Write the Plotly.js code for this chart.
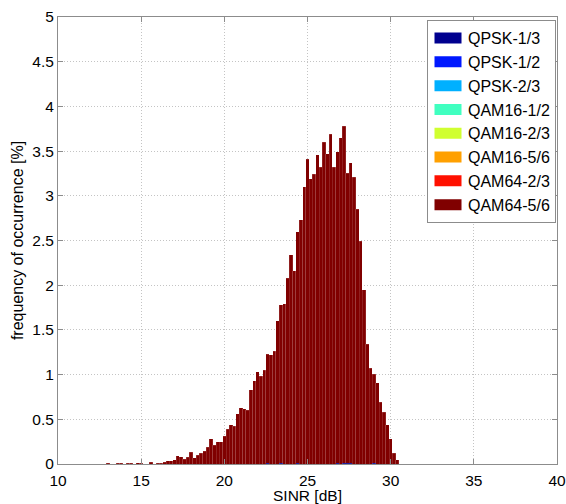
<!DOCTYPE html>
<html>
<head>
<meta charset="utf-8">
<script src="https://cdn.plot.ly/plotly-3.0.1.min.js"></script>
<style>
html,body{margin:0;padding:0;background:#fff;}
#chart{width:566px;height:504px;}
</style>
</head>
<body>
<div id="chart"></div>
<script>
// SINR bin centres [dB]
const sinr = [13.0, 13.6, 13.8, 14.2, 14.4, 14.8, 15.0, 15.6, 16.0, 16.2,
  16.4, 16.6, 16.8, 17.0, 17.2, 17.4, 17.6, 17.8, 18.0, 18.2,
  18.4, 18.6, 18.8, 19.0, 19.2, 19.4, 19.6, 19.8, 20.0, 20.2,
  20.4, 20.6, 20.8, 21.0, 21.2, 21.4, 21.6, 21.8, 22.0, 22.2,
  22.4, 22.6, 22.8, 23.0, 23.2, 23.4, 23.6, 23.8, 24.0, 24.2,
  24.4, 24.6, 24.8, 25.0, 25.2, 25.4, 25.6, 25.8, 26.0, 26.2,
  26.4, 26.6, 26.8, 27.0, 27.2, 27.4, 27.6, 27.8, 28.0, 28.2,
  28.4, 28.6, 28.8, 29.0, 29.2, 29.4, 29.6, 29.8, 30.0, 30.2, 30.4];

// frequency of occurrence [%] per modulation-and-coding scheme
const qam64_56 = [0.01, 0.01, 0.01, 0.01, 0.01, 0.015, 0.01, 0.02, 0.01, 0.01,
  0.02, 0.035, 0.035, 0.045, 0.09, 0.08, 0.055, 0.075, 0.13, 0.07,
  0.10, 0.12, 0.14, 0.19, 0.28, 0.21, 0.25, 0.25, 0.31, 0.39,
  0.44, 0.42, 0.56, 0.63, 0.62, 0.60, 0.83, 0.93, 1.03, 0.98,
  1.05, 1.22, 1.22, 1.26, 1.60, 1.77, 1.79, 2.08, 2.34, 2.16,
  2.59, 2.73, 3.10, 3.41, 3.19, 3.24, 3.46, 3.32, 3.60, 3.47,
  3.69, 3.32, 3.48, 3.65, 3.77, 3.24, 3.36, 3.21, 2.85, 2.49,
  1.95, 1.34, 1.07, 0.995, 0.91, 0.69, 0.58, 0.44, 0.28, 0.12, 0.05];

// low-rate schemes: only tiny occurrences near the bottom
const qpsk13_x = [22.6, 23.4, 24.4, 26.8, 27.2, 27.4, 27.6, 29.0];
const qpsk13 = [0.01, 0.01, 0.01, 0.01, 0.01, 0.01, 0.01, 0.01];
const zero_x = [25.0];
const zero_y = [0];

const schemes = ['QPSK-1/3', 'QPSK-1/2', 'QPSK-2/3', 'QAM16-1/2', 'QAM16-2/3', 'QAM16-5/6', 'QAM64-2/3', 'QAM64-5/6'];
const colors = ['#00008f', '#0018ff', '#00b0ff', '#40ffc0', '#d0ff30', '#ffa000', '#ff1000', '#800000'];

const seriesX = [qpsk13_x, zero_x, zero_x, zero_x, zero_x, zero_x, zero_x, sinr];
const seriesY = [qpsk13, zero_y, zero_y, zero_y, zero_y, zero_y, zero_y, qam64_56];

const traces = schemes.map((name, i) => ({
  type: 'bar',
  name: name,
  x: seriesX[i],
  y: seriesY[i],
  width: 0.2,
  marker: {color: colors[i], line: {color: 'rgba(255,255,255,0.25)', width: (i === 7 ? 0.5 : 0)}},
  hoverinfo: 'x+y+name'
}));

const font = {family: '"Liberation Sans", Arial, Helvetica, sans-serif', color: '#000'};

const axisCommon = {
  showline: true,
  linecolor: '#8c8c8c',
  linewidth: 1,
  mirror: 'ticks',
  ticks: 'inside',
  ticklen: 5,
  tickcolor: '#8c8c8c',
  showgrid: true,
  gridcolor: '#c4c4c4',
  griddash: '1px,2px',
  gridwidth: 1,
  zeroline: false,
  tickfont: Object.assign({size: 15.5}, font)
};

const layout = {
  width: 566,
  height: 504,
  margin: {l: 58, r: 9, t: 17, b: 40},
  paper_bgcolor: '#fff',
  plot_bgcolor: '#fff',
  barmode: 'stack',
  bargap: 0,
  font: font,
  xaxis: Object.assign({}, axisCommon, {
    range: [10, 40],
    tickvals: [10, 15, 20, 25, 30, 35, 40],
    ticktext: ['10', '15', '20', '25', '30', '35', '40'],
    ticklabelstandoff: 2,
    title: {text: 'SINR [dB]', font: Object.assign({size: 15.5}, font), standoff: 3}
  }),
  yaxis: Object.assign({}, axisCommon, {
    range: [0, 5],
    tickvals: [0, 0.5, 1, 1.5, 2, 2.5, 3, 3.5, 4, 4.5, 5],
    ticktext: ['0', '0.5', '1', '1.5', '2', '2.5', '3', '3.5', '4', '4.5', '5'],
    title: {text: 'frequency of occurrence [%]', font: Object.assign({size: 16}, font), standoff: 4}
  }),
  showlegend: true,
  legend: {
    x: 0.998, y: 0.993, xanchor: 'right', yanchor: 'top',
    bgcolor: '#fff',
    bordercolor: '#8c8c8c',
    borderwidth: 1,
    traceorder: 'normal',
    font: Object.assign({size: 16}, font),
    itemwidth: 30
  }
};

Plotly.newPlot('chart', traces, layout, {displayModeBar: false, staticPlot: true}).then(gd => {
  // widen legend swatches to the flat rectangles of the reference
  gd.querySelectorAll('.legend g.legendpoints path').forEach(p => {
    p.setAttribute('d', 'M-13.5,5.5H13.5V-5.5H-13.5Z');
    p.style.strokeWidth = '0';
  });
});
</script>
</body>
</html>
